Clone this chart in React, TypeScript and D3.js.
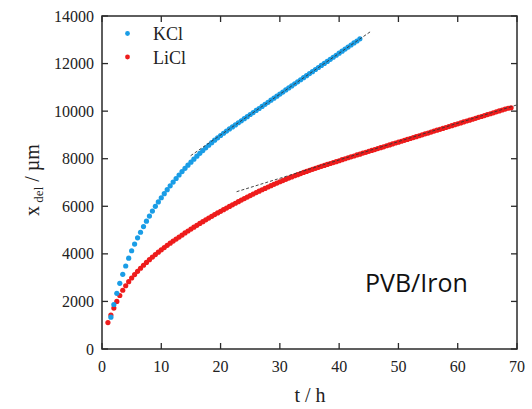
import React from "react";
import * as d3 from "d3";

const kclStart = 1.5;
const kclStep = 0.5;
const kclValues = [
  1340, 1870, 2340, 2760, 3140, 3490, 3820, 4130, 4410, 4675, 4908, 5145, 5372, 5590, 5799,
  6000, 6182, 6359, 6531, 6698, 6860, 7017, 7169, 7316, 7458, 7595, 7727, 7854, 7980, 8107,
  8228, 8344, 8457, 8566, 8673, 8778, 8879, 8977, 9071, 9162, 9251, 9338, 9420, 9512, 9595,
  9684, 9768, 9858, 9940, 10030, 10112, 10200, 10288, 10370, 10460, 10545, 10630, 10718, 10800,
  10890, 10975, 11060, 11150, 11232, 11320, 11405, 11490, 11578, 11660, 11750, 11835, 11920,
  12008, 12090, 12180, 12265, 12350, 12438, 12520, 12610, 12695, 12780, 12868, 12950, 13040,
];

const liclStart = 1.0;
const liclStep = 0.5;
const liclValues = [
  1110, 1430, 1720, 2000, 2250, 2470, 2660, 2830, 2985, 3130, 3265, 3395, 3520, 3640, 3755,
  3865, 3970, 4072, 4170, 4265, 4358, 4448, 4536, 4622, 4706, 4788, 4880, 4960, 5040, 5120,
  5200, 5278, 5355, 5430, 5505, 5578, 5650, 5720, 5790, 5858, 5925, 5993, 6060, 6128, 6195,
  6260, 6325, 6389, 6452, 6514, 6575, 6635, 6695, 6753, 6811, 6867, 6923, 6977, 7031, 7083,
  7135, 7185, 7235, 7283, 7331, 7377, 7423, 7467, 7511, 7554, 7596, 7637, 7678, 7718, 7758,
  7798, 7837, 7876, 7915, 7960, 7998, 8040, 8080, 8115, 8160, 8192, 8235, 8270, 8312, 8350,
  8385, 8428, 8465, 8500, 8545, 8580, 8620, 8660, 8695, 8735, 8775, 8812, 8850, 8890, 8928,
  8965, 9005, 9045, 9080, 9120, 9160, 9198, 9235, 9275, 9312, 9352, 9390, 9430, 9468, 9505,
  9545, 9585, 9620, 9660, 9700, 9738, 9775, 9815, 9855, 9890, 9930, 9970, 10010, 10048, 10085,
  10122, 10140,
];

// tangent (dashed) lines: [t, x]
const kclFit = [[14.95, 8126], [45.3, 13345]];
const liclFit = [[22.7, 6613], [69.9, 10255]];

const xTicks = [0, 10, 20, 30, 40, 50, 60, 70];
const yTicks = [0, 2000, 4000, 6000, 8000, 10000, 12000, 14000];

const seriesNames = ["KCl", "LiCl"];
const seriesColors = ["#1a9de6", "#ee1c1c"];

export default function App() {
  const W = 532, H = 409;
  const left = 102, right = 517, top = 16, bottom = 349;
  const x = d3.scaleLinear().domain([0, 70]).range([left, right]);
  const y = d3.scaleLinear().domain([0, 14000]).range([bottom, top]);

  const kcl = kclValues.map((v, i) => [kclStart + i * kclStep, v]);
  const licl = liclValues.map((v, i) => [liclStart + i * liclStep, v]);

  const line = d3.line<number[]>().x((d) => x(d[0])).y((d) => y(d[1]));
  const serif = "'Liberation Serif', 'Times New Roman', serif";
  const axisColor = "#2a2a2a";
  const tl = 6;
  const r = 2.6;

  return (
    <svg width={W} height={H} style={{ position: "absolute", left: 0, top: 0, background: "#fff" }}>
      {/* data */}
      {licl.map((d, i) => (
        <circle key={"l" + i} cx={x(d[0])} cy={y(d[1])} r={r} fill={seriesColors[1]} />
      ))}
      {kcl.map((d, i) => (
        <circle key={"k" + i} cx={x(d[0])} cy={y(d[1])} r={r} fill={seriesColors[0]} />
      ))}
      <path d={line(kclFit as number[][]) || ""} stroke="#333" strokeWidth={0.9} strokeDasharray="3,2" fill="none" />
      <path d={line(liclFit as number[][]) || ""} stroke="#333" strokeWidth={0.9} strokeDasharray="3,2" fill="none" />

      {/* frame */}
      <rect x={left} y={top} width={right - left} height={bottom - top} fill="none" stroke={axisColor} strokeWidth={1.5} />
      {xTicks.map((t) => (
        <g key={"xt" + t}>
          <line x1={x(t)} x2={x(t)} y1={bottom} y2={bottom - tl} stroke={axisColor} strokeWidth={1.3} />
          <line x1={x(t)} x2={x(t)} y1={top} y2={top + tl} stroke={axisColor} strokeWidth={1.3} />
          <text x={x(t)} y={372} textAnchor="middle" fontFamily={serif} fontSize={16} fill="#222">{t}</text>
        </g>
      ))}
      {yTicks.map((v) => (
        <g key={"yt" + v}>
          <line x1={left} x2={left + tl} y1={y(v)} y2={y(v)} stroke={axisColor} strokeWidth={1.3} />
          <line x1={right} x2={right - tl} y1={y(v)} y2={y(v)} stroke={axisColor} strokeWidth={1.3} />
          <text x={94} y={y(v) + 5.5} textAnchor="end" fontFamily={serif} fontSize={16} fill="#222">{v}</text>
        </g>
      ))}

      {/* axis titles */}
      <text x={310} y={402} textAnchor="middle" fontFamily={serif} fontSize={20} fill="#222">t / h</text>
      <text transform="translate(39,180) rotate(-90)" textAnchor="middle" fontFamily={serif} fontSize={20} fill="#222">
        x<tspan fontSize={13} dy={4}> del</tspan><tspan dy={-4}> / µm</tspan>
      </text>

      {/* legend */}
      {seriesNames.map((n, i) => (
        <g key={n}>
          <circle cx={127.5} cy={33.5 + i * 23.5} r={2.4} fill={seriesColors[i]} />
          <text x={153} y={40 + i * 23.5} fontFamily={serif} fontSize={18} fill="#222">{n}</text>
        </g>
      ))}

      <text x={365} y={292} fontFamily="'Open Sans', sans-serif" fontSize={25} fill="#111">PVB/Iron</text>
    </svg>
  );
}
